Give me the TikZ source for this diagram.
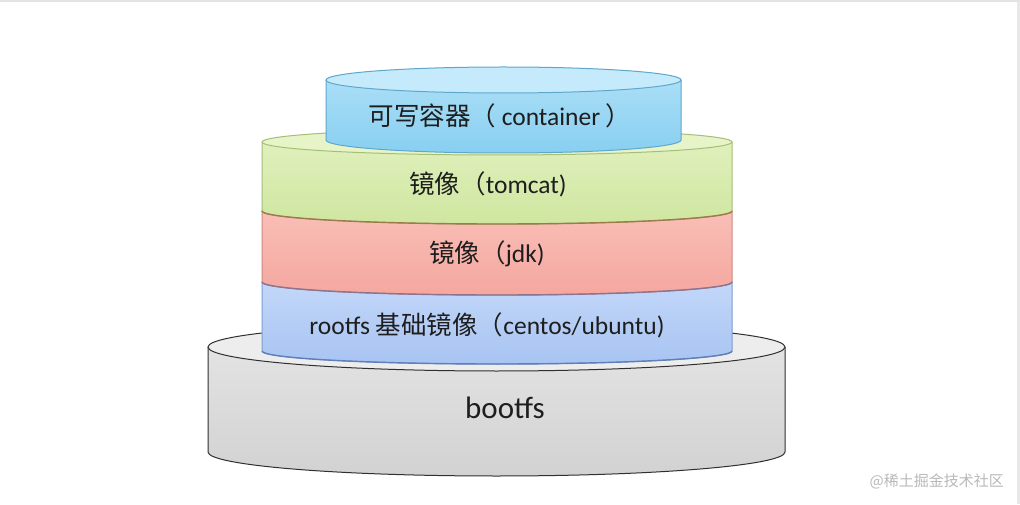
\documentclass[tikz,border=0pt]{standalone}
\usepackage{fontspec}
\setmainfont{Carlito}
\newfontfamily\cjk{Noto Sans CJK SC}
\definecolor{txt}{HTML}{1E1E1E}
% container
\definecolor{cTop}{HTML}{C4EAFB}\definecolor{cA}{HTML}{B0E1F8}\definecolor{cB}{HTML}{88CFF0}\definecolor{cL}{HTML}{5FA8CA}
% tomcat
\definecolor{tTop}{HTML}{E6F4C8}\definecolor{tA}{HTML}{E2F2C0}\definecolor{tB}{HTML}{CFE6A0}\definecolor{tL}{HTML}{A6BE78}\definecolor{tE}{HTML}{9C7A4C}
% jdk
\definecolor{jTop}{HTML}{FBCEC8}\definecolor{jA}{HTML}{FAC2BA}\definecolor{jB}{HTML}{F4A79F}\definecolor{jL}{HTML}{CF8880}\definecolor{jE}{HTML}{8C7490}
% rootfs
\definecolor{rTop}{HTML}{D4E3FB}\definecolor{rA}{HTML}{C7DAFA}\definecolor{rB}{HTML}{A8C4F2}\definecolor{rL}{HTML}{7D9DD0}\definecolor{rE}{HTML}{5F7FB6}
% bootfs
\definecolor{bTop}{HTML}{EDEDED}\definecolor{bA}{HTML}{E6E6E6}\definecolor{bB}{HTML}{D2D2D2}\definecolor{bL}{HTML}{303030}
% #1 cx, #2 a, #3 ry, #4 topY, #5 botY, #6 side top color, #7 side bottom color, #8 top fill, #9 border
\newcommand\layercyl[9]{%
  \path[top color=#6,bottom color=#7]
    (#1-#2,#4) -- (#1-#2,#5) arc[start angle=180,end angle=360,x radius=#2,y radius=#3]
    -- (#1+#2,#4) arc[start angle=0,end angle=180,x radius=#2,y radius=#3] -- cycle;
  \draw[#9,line width=1pt]
    (#1-#2,#4) -- (#1-#2,#5) arc[start angle=180,end angle=360,x radius=#2,y radius=#3]
    -- (#1+#2,#4);
  \draw[#9,line width=1pt,fill=#8] (#1,#4) ellipse[x radius=#2,y radius=#3];
}
\begin{document}
\begin{tikzpicture}[x=1pt,y=1pt,
  lbl/.style={text=txt,font=\fontsize{25.5}{30}\selectfont,inner sep=0pt,anchor=center}]
\useasboundingbox (0,0) rectangle (1020,504);
\fill[white] (0,0) rectangle (1020,504);
\draw[gray!22,line width=2pt] (0,503) -- (1020,503);
\draw[gray!18,line width=3pt] (1018.5,0) -- (1018.5,502);
% bootfs
\layercyl{496.5}{288.5}{24}{157}{52}{bA}{bB}{bTop}{bL}
% rootfs
\layercyl{497}{235}{13}{222}{153}{rA}{rB}{rTop}{rL}
\draw[rE,line width=1.4pt] (262,153) arc[start angle=180,end angle=360,x radius=235,y radius=13];
% jdk
\layercyl{497}{235}{13}{293}{222}{jA}{jB}{jTop}{jL}
\draw[jE,line width=1.4pt] (262,222) arc[start angle=180,end angle=360,x radius=235,y radius=13];
% tomcat
\layercyl{497}{235}{13}{362}{293}{tA}{tB}{tTop}{tL}
\draw[tE,line width=1.4pt] (262,293) arc[start angle=180,end angle=360,x radius=235,y radius=13];
% container
\layercyl{503.5}{177.5}{13}{424}{364}{cA}{cB}{cTop}{cL}
% labels
\node[lbl] (container) at (500,388) {{\cjk 可写容器（} container {\cjk ）}};
\node[lbl] (tomcat) at (488,320) {{\cjk 镜像（}tomcat)};
\node[lbl] (jdk) at (487,250) {{\cjk 镜像（}jdk)};
\node[lbl] (rootfs) at (487,179) {rootfs {\cjk 基础镜像（}centos/ubuntu)};
\node[lbl,font=\fontsize{31}{36}\selectfont] (bootfs) at (505,96) {bootfs};
\node[text=gray!55,font=\cjk\fontsize{15}{18}\selectfont,anchor=east,inner sep=0pt] (wm) at (1004,23) {@稀土掘金技术社区};
\end{tikzpicture}
\end{document}
